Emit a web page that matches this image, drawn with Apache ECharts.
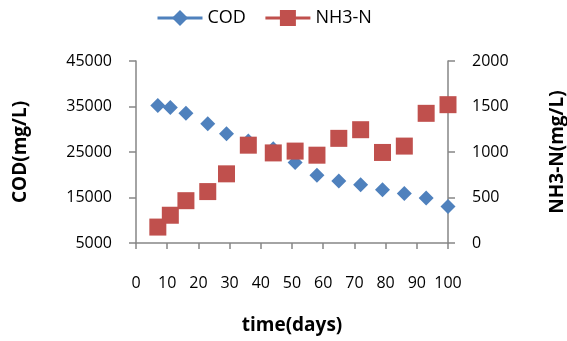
<!DOCTYPE html>
<html>
<head>
<meta charset="utf-8">
<script src="https://cdn.jsdelivr.net/npm/echarts@6/dist/echarts.min.js"></script>
<style>
  html, body { margin: 0; padding: 0; background: #fff; }
  #container { width: 567px; height: 341px; }
</style>
</head>
<body>
<div id="container"></div>
<script>
// sampling days
const days = [7, 11, 16, 23, 29, 36, 44, 51, 58, 65, 72, 79, 86, 93, 100];
// COD, mg/L (left axis)
const cod = [35200, 34800, 33500, 31200, 29000, 27400, 25700, 22700, 19900, 18600, 17800, 16700, 15900, 14900, 13000];
// NH3-N, mg/L (right axis)
const nh3n = [175, 305, 465, 565, 760, 1075, 990, 1010, 965, 1150, 1245, 995, 1065, 1425, 1520];

const seriesNames = ["COD", "NH3-N"];
const colors = ["#4F81BD", "#C0504D"];

const dom = document.getElementById("container");
const myChart = echarts.init(dom, null, { renderer: "canvas" });

const font = "Open Sans";
const axisGrey = "#868686";

function pairs(xs, ys) {
  return xs.map((x, i) => [x, ys[i]]);
}

// plain numbers, no thousands separator
const plain = (v) => String(v);

const option = {
  animation: false,
  textStyle: { fontFamily: font },
  legend: {
    top: 4,
    left: 151,
    itemWidth: 45,
    itemHeight: 20,
    itemGap: 18,
    textStyle: { fontFamily: font, fontSize: 18, color: "#000" },
    data: seriesNames.map((n, i) => ({
      name: n,
      lineStyle: { color: colors[i], width: 3, opacity: 1 },
      itemStyle: { color: colors[i] },
    })),
  },
  grid: { left: 136, right: 119, top: 61, bottom: 98, outerBoundsMode: "none" },
  xAxis: {
    type: "value",
    min: 0,
    max: 100,
    interval: 10,
    name: "time(days)",
    nameLocation: "middle",
    nameGap: 73,
    nameTextStyle: { fontFamily: font, fontSize: 19, fontWeight: "bold", color: "#000" },
    axisLine: { show: true, lineStyle: { color: axisGrey, width: 1.5 } },
    axisTick: { show: true, length: 6, lineStyle: { color: axisGrey, width: 1.5 } },
    axisLabel: { margin: 32, fontSize: 16, color: "#000", fontFamily: font, formatter: plain },
    splitLine: { show: false },
  },
  yAxis: [
    {
      type: "value",
      min: 5000,
      max: 45000,
      interval: 10000,
      position: "left",
      name: "COD(mg/L)",
      nameLocation: "middle",
      nameRotate: 90,
      nameGap: 106,
      nameTextStyle: { fontFamily: font, fontSize: 19, fontWeight: "bold", color: "#000" },
      axisLine: { show: true, lineStyle: { color: axisGrey, width: 1.5 } },
      axisTick: { show: true, length: 7, lineStyle: { color: axisGrey, width: 1.5 } },
      axisLabel: { margin: 24, fontSize: 16, color: "#000", fontFamily: font, formatter: plain },
      splitLine: { show: false },
    },
    {
      type: "value",
      min: 0,
      max: 2000,
      interval: 500,
      position: "right",
      name: "NH3-N(mg/L)",
      nameLocation: "middle",
      nameRotate: 90,
      nameGap: 100,
      nameTextStyle: { fontFamily: font, fontSize: 19, fontWeight: "bold", color: "#000" },
      axisLine: { show: true, lineStyle: { color: axisGrey, width: 1.5 } },
      axisTick: { show: true, length: 7, lineStyle: { color: axisGrey, width: 1.5 } },
      axisLabel: { margin: 24, fontSize: 16, color: "#000", fontFamily: font, formatter: plain },
      splitLine: { show: false },
    },
  ],
  series: [
    {
      name: seriesNames[0],
      type: "line",
      yAxisIndex: 0,
      data: pairs(days, cod),
      symbol: "diamond",
      symbolSize: 15,
      showAllSymbol: true,
      itemStyle: { color: colors[0], opacity: 1 },
      lineStyle: { width: 0, opacity: 0 },
      z: 2,
    },
    {
      name: seriesNames[1],
      type: "line",
      yAxisIndex: 1,
      data: pairs(days, nh3n),
      symbol: "rect",
      symbolSize: 17,
      showAllSymbol: true,
      itemStyle: { color: colors[1], opacity: 1 },
      lineStyle: { width: 0, opacity: 0 },
      z: 3,
    },
  ],
};

myChart.setOption(option);
window.addEventListener("resize", myChart.resize);
</script>
</body>
</html>
